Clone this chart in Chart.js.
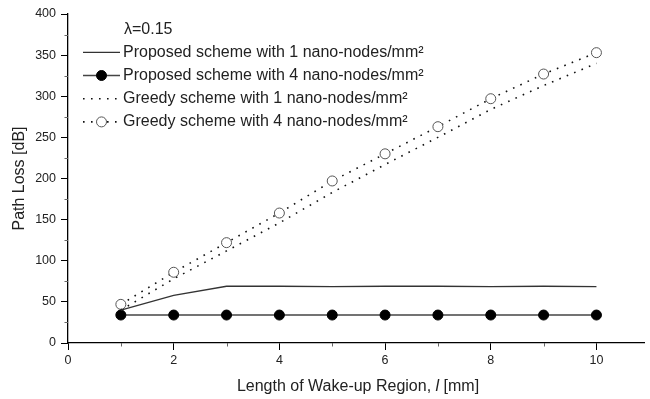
<!DOCTYPE html>
<html>
<head>
<meta charset="utf-8">
<script src="https://cdn.jsdelivr.net/npm/chart.js@4"></script>
<style>
  html, body { margin: 0; padding: 0; background: #fff; }
</style>
</head>
<body>
<canvas id="myChart" width="650" height="399"></canvas>
<script>
// data
const xValues = [1, 2, 3, 4, 5, 6, 7, 8, 9, 10];
const proposed1 = [40, 58, 69, 69, 68.5, 69, 69, 68.5, 69, 68.5];
const proposed4 = [34, 34, 34, 34, 34, 34, 34, 34, 34, 34];
const greedy1 = [40, 78, 112, 146, 183, 217, 250, 284, 313, 340];
const greedy4 = [47, 86, 122, 158, 197, 230, 263, 297, 327, 353];
const seriesNames = [
  "Proposed scheme with 1 nano-nodes/mm\u00B2",
  "Proposed scheme with 4 nano-nodes/mm\u00B2",
  "Greedy scheme with 1 nano-nodes/mm\u00B2",
  "Greedy scheme with 4 nano-nodes/mm\u00B2"
];
const lambdaLabel = "\u03BB=0.15";
const xTitleParts = ["Length of Wake-up Region, ", "l", " [mm]"];
const yTitle = "Path Loss [dB]";

const FONT = '"Liberation Sans", Arial, Helvetica, sans-serif';
const TEXT = "#222";

const pts = arr => xValues.map((x, i) => ({ x: x, y: arr[i] }));

// legend, x title and minor ticks drawn on top
const overlay = {
  id: "overlay",
  afterDraw(chart) {
    const c = chart.ctx;
    const xs = chart.scales.x, ys = chart.scales.y;
    const area = chart.chartArea;
    c.save();

    // minor ticks
    c.strokeStyle = "#666";
    c.lineWidth = 1;
    for (let v = 25; v < 400; v += 50) {
      const py = Math.round(ys.getPixelForValue(v)) + 0.5;
      c.beginPath(); c.moveTo(area.left - 3.5, py); c.lineTo(area.left, py); c.stroke();
    }
    for (let v = 1; v <= 9; v += 2) {
      const px = Math.round(xs.getPixelForValue(v)) + 0.5;
      c.beginPath(); c.moveTo(px, area.bottom); c.lineTo(px, area.bottom + 3.5); c.stroke();
    }

    // x title with italic l
    c.fillStyle = TEXT;
    c.textBaseline = "middle";
    const fN = "16px " + FONT, fI = "italic 16px " + FONT;
    const widths = xTitleParts.map((t, i) => { c.font = i === 1 ? fI : fN; return c.measureText(t).width; });
    let tx = (area.left + area.right) / 2 + 2 - widths.reduce((a, b) => a + b, 0) / 2;
    xTitleParts.forEach((t, i) => {
      c.font = i === 1 ? fI : fN;
      c.textAlign = "left";
      c.fillText(t, tx, 387);
      tx += widths[i];
    });

    // legend
    c.font = "16px " + FONT;
    c.fillText(lambdaLabel, 124, 30);
    chart.data.datasets.forEach((ds, i) => {
      const y = 52.3 + i * 23.2;
      c.save();
      c.strokeStyle = ds.borderColor;
      c.lineWidth = ds.borderWidth;
      c.setLineDash(ds.borderDash || []);
      c.beginPath(); c.moveTo(83, y); c.lineTo(120, y); c.stroke();
      c.restore();
      if (ds.pointRadius > 0) {
        c.beginPath();
        c.arc(101.5, y, ds.pointRadius, 0, Math.PI * 2);
        c.fillStyle = ds.pointBackgroundColor;
        c.fill();
        c.lineWidth = ds.pointBorderWidth;
        c.strokeStyle = ds.pointBorderColor;
        c.stroke();
      }
      c.fillStyle = TEXT;
      c.fillText(ds.label, 123, y);
    });
    c.restore();
  }
};

const ctx = document.getElementById("myChart");

new Chart(ctx, {
  type: "line",
  data: {
    datasets: [
      {
        label: seriesNames[0],
        data: pts(proposed1),
        borderColor: "#333",
        borderWidth: 1.3,
        pointRadius: 0,
        pointHoverRadius: 0
      },
      {
        label: seriesNames[1],
        data: pts(proposed4),
        borderColor: "#444",
        borderWidth: 1.6,
        pointRadius: 5,
        pointBackgroundColor: "#000",
        pointBorderColor: "#000",
        pointBorderWidth: 1
      },
      {
        label: seriesNames[2],
        data: pts(greedy1),
        borderColor: "#111",
        borderWidth: 1.6,
        borderDash: [1.6, 6.4],
        pointRadius: 0,
        pointHoverRadius: 0
      },
      {
        label: seriesNames[3],
        data: pts(greedy4),
        borderColor: "#111",
        borderWidth: 1.6,
        borderDash: [1.6, 6.4],
        pointRadius: 5,
        pointBackgroundColor: "#fff",
        pointBorderColor: "#555",
        pointBorderWidth: 1
      }
    ]
  },
  options: {
    responsive: false,
    animation: false,
    events: [],
    layout: { padding: { top: 14, left: 0, right: 0, bottom: 0 } },
    plugins: {
      legend: { display: false },
      tooltip: { enabled: false }
    },
    scales: {
      x: {
        type: "linear",
        min: 0,
        max: 10.9,
        afterFit: s => { s.height = 56; },
        border: { color: "#000", width: 1.3 },
        grid: { drawOnChartArea: false, drawTicks: true, tickLength: 7, tickColor: "#000" },
        ticks: {
          stepSize: 2,
          includeBounds: false,
          autoSkip: false,
          maxRotation: 0,
          padding: 3,
          color: TEXT,
          font: { family: FONT, size: 12.5 }
        },
        title: { display: false }
      },
      y: {
        min: 0,
        max: 400,
        afterFit: s => { s.width = 68; },
        border: { color: "#000", width: 1.3 },
        grid: { drawOnChartArea: false, drawTicks: true, tickLength: 7, tickColor: "#000" },
        ticks: {
          stepSize: 50,
          autoSkip: false,
          padding: 5,
          color: TEXT,
          font: { family: FONT, size: 12.5 }
        },
        title: {
          display: true,
          text: yTitle,
          color: TEXT,
          font: { family: FONT, size: 16 },
          padding: { top: 10, bottom: 0 }
        }
      }
    }
  },
  plugins: [overlay]
});
</script>
</body>
</html>
